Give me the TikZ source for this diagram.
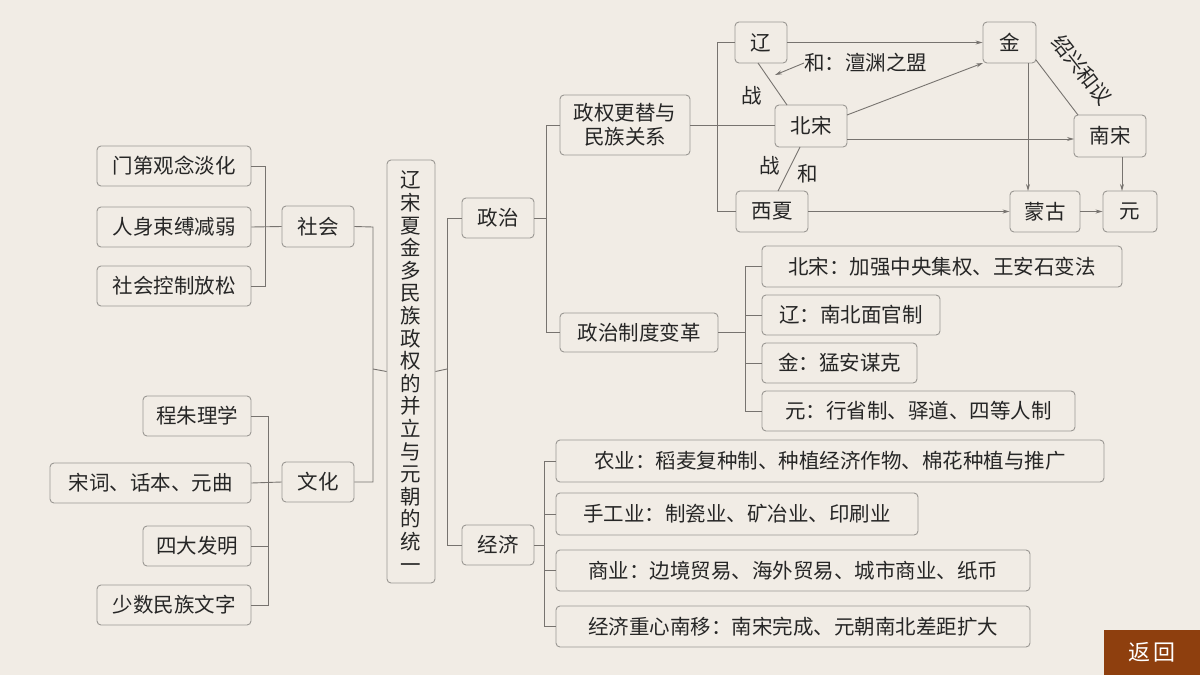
\documentclass[tikz,border=0pt]{standalone}
\usepackage{fontspec}
\newfontfamily\cjk{Noto Sans CJK SC}
\usetikzlibrary{arrows.meta}
\definecolor{bg}{HTML}{F1ECE5}
\definecolor{bd}{HTML}{9A9793}
\definecolor{ln}{HTML}{77736F}
\definecolor{btn}{HTML}{8E3F0E}
\begin{document}
\begin{tikzpicture}[x=1pt,y=-1pt,
 box/.style={draw=bd,line width=0.9pt,rounded corners=4pt,fill=bg,inner sep=0pt,font=\cjk\fontsize{20.5}{22}\selectfont,text=black!85},
 lk/.style={draw=ln,line width=0.9pt},
 ar/.style={lk,-{Stealth[length=7pt,width=4pt]}},
 lab/.style={font=\cjk\fontsize{20.5}{22}\selectfont,text=black!85,inner sep=0pt}]
\fill[bg] (0,0) rectangle (1200,675);
\useasboundingbox (0,0) rectangle (1200,675);
\newcommand\bx[6]{\node[box,minimum width=#4-#2,minimum height=#5-#3] (#1) at ({(#2+#4)/2},{(#3+#5)/2}) {#6};}
% left
\bx{a1}{97}{146}{251}{186}{门第观念淡化}
\bx{a2}{97}{207}{251}{247}{人身束缚减弱}
\bx{a3}{97}{266}{251}{306}{社会控制放松}
\bx{sh}{282}{206}{354}{247}{社会}
\bx{wh}{282}{462}{354}{502}{文化}
\bx{b1}{143}{396}{251}{436}{程朱理学}
\bx{b2}{50}{463}{251}{503}{宋词、话本、元曲}
\bx{b3}{143}{526}{251}{566}{四大发明}
\bx{b4}{97}{585}{251}{625}{少数民族文字}
\node[box,minimum width=48,minimum height=423,align=center,font=\cjk\fontsize{20.5}{22.6}\selectfont] (m) at (411,371.5) {辽\\宋\\夏\\金\\多\\民\\族\\政\\权\\的\\并\\立\\与\\元\\朝\\的\\统\\一};
\bx{zz}{462}{198}{534}{238}{政治}
\bx{jj}{462}{525}{534}{565}{经济}
\node[box,minimum width=130,minimum height=60,align=center,font=\cjk\fontsize{20.5}{24}\selectfont] (zq) at (625,125) {政权更替与\\民族关系};
\bx{zd}{560}{313}{718}{352}{政治制度变革}
\bx{c1}{762}{246}{1122}{287}{北宋：加强中央集权、王安石变法}
\bx{c2}{762}{295}{940}{335}{辽：南北面官制}
\bx{c3}{762}{343}{917}{383}{金：猛安谋克}
\bx{c4}{762}{391}{1075}{431}{元：行省制、驿道、四等人制}
\bx{d1}{556}{440}{1104}{482}{农业：稻麦复种制、种植经济作物、棉花种植与推广}
\bx{d2}{556}{493}{918}{535}{手工业：制瓷业、矿冶业、印刷业}
\bx{d3}{556}{550}{1030}{591}{商业：边境贸易、海外贸易、城市商业、纸币}
\bx{d4}{556}{606}{1030}{647}{经济重心南移：南宋完成、元朝南北差距扩大}
\bx{liao}{735}{22}{787}{63}{辽}
\bx{jin}{983}{22}{1036}{63}{金}
\bx{bs}{775}{105}{847}{147}{北宋}
\bx{ns}{1074}{115}{1146}{157}{南宋}
\bx{xx}{736}{191}{808}{232}{西夏}
\bx{mg}{1010}{191}{1080}{232}{蒙古}
\bx{yuan}{1103}{191}{1157}{232}{元}
\node[fill=btn,minimum width=96,minimum height=45,text=white,font=\cjk\fontsize{22}{24}\selectfont] (fh) at (1152,652.5) {返\,回};
% brackets
\draw[lk] (a1.east) -- (265,166) |- (a3.east);
\draw[lk] (a2.east) -- (sh.west);
\draw[lk] (b1.east) -- (268,416) |- (b4.east);
\draw[lk] (b2.east) -- (wh.west);
\draw[lk] (b3.east) -- (268,546);
\draw[lk] (sh.east) -- (373,227) |- (wh.east);
\draw[lk] (373,369) -- (m.west);
\draw[lk] (zz.west) -- (447,218) |- (jj.west);
\draw[lk] (m.east) -- (447,369);
\draw[lk] (zq.west) -- (546,125) |- (zd.west);
\draw[lk] (zz.east) -- (546,218);
\draw[lk] (c1.west) -- (745,266.5) |- (c4.west);
\draw[lk] (c2.west) -- (745,315); \draw[lk] (c3.west) -- (745,363);
\draw[lk] (zd.east) -- (745,332.5);
\draw[lk] (d1.west) -- (544,461) |- (d4.west);
\draw[lk] (d2.west) -- (544,514); \draw[lk] (d3.west) -- (544,570.5);
\draw[lk] (jj.east) -- (544,545);
% top network
\coordinate (bsw) at (775,125);
\draw[lk] (liao.west) -- (717,42.5) |- (xx.west);
\draw[lk] (zq.east) -- (bsw);
\draw[lk] (758,63) -- (787,105);
\draw[lk] (800,147) -- (778,191);
\draw[ar] (liao.east) -- (jin.west);
\draw[ar] (847,115) -- (983,63);
\draw[ar] (847,139) -- (1074,139);
\draw[ar] (1028,63) -- (1028,191);
\draw[lk] (1036,60) -- (1078,115);
\draw[ar] (1122,157) -- (1122,191);
\draw[ar] (xx.east) -- (mg.west);
\draw[ar] (mg.east) -- (yuan.west);
\node[lab,anchor=west] (hy) at (804,63) {和：澶渊之盟};
\draw[ar] (hy.west) -- (775,75);
\node[lab] (z1) at (752,96) {战};
\node[lab] (z2) at (770,166) {战};
\node[lab] (h1) at (808,174) {和};
\node[lab,rotate=-52] (sx) at (1082,70) {绍兴和议};
\end{tikzpicture}
\end{document}
